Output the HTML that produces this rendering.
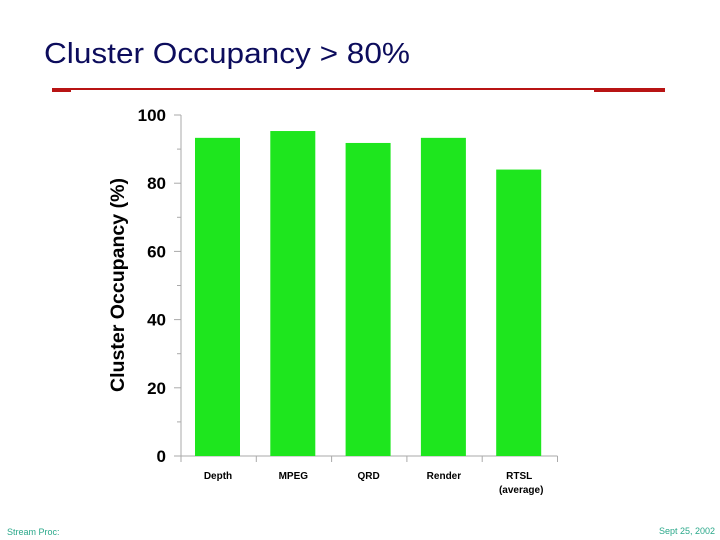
<!DOCTYPE html>
<html><head><meta charset="utf-8"><style>
html,body{margin:0;padding:0;background:#fff;}
svg{display:block;font-family:"Liberation Sans",sans-serif;}
</style></head><body>
<svg id="slide" width="720" height="540" viewBox="0 0 720 540">
<text x="44" y="63" font-size="29" fill="#0c0c5c" textLength="366" lengthAdjust="spacingAndGlyphs">Cluster Occupancy &gt; 80%</text>
<rect x="52" y="88" width="613" height="2" fill="#b81414"/>
<rect x="52" y="88" width="19" height="4" fill="#b81414"/>
<rect x="594" y="88" width="71" height="4" fill="#b81414"/>
<g id="chart"></g>
<text x="7" y="535" font-size="9" fill="#2aa88a">Stream Proc:</text>
<text x="715" y="534" font-size="9" fill="#2aa88a" text-anchor="end">Sept 25, 2002</text>
</svg>
<script>
const categories = ["Depth", "MPEG", "QRD", "Render", "RTSL"];
const subLabels = ["", "", "", "", "(average)"];
const values = [93.3, 95.3, 91.8, 93.3, 84.0];
const yTicks = [0, 20, 40, 60, 80, 100];
const yMinorTicks = [10, 30, 50, 70, 90];

const NS = "http://www.w3.org/2000/svg";
const g = document.getElementById("chart");
const x0 = 181, slot = 75.3, y0 = 456, yTop = 115;
const yScale = v => y0 - (v / 100) * (y0 - yTop);
const xSlot = i => x0 + i * slot;
function mk(tag, attrs, parent) {
  const e = document.createElementNS(NS, tag);
  for (const k in attrs) e.setAttribute(k, attrs[k]);
  (parent || g).appendChild(e);
  return e;
}
let ax = mk("line", {x1: x0, y1: yTop, x2: x0, y2: y0, stroke: "#aaa", "stroke-width": 1});


let bx = mk("line", {x1: x0 - 6, y1: y0, x2: xSlot(categories.length), y2: y0, stroke: "#aaa", "stroke-width": 1});


yTicks.forEach(t => {
  const y = yScale(t);
  const tk = mk("line", {x1: x0 - 7, y1: y, x2: x0, y2: y, stroke: "#aaa"});
  
  
  const tx = mk("text", {x: x0 - 15, y: y + 6, "font-size": 17, "font-weight": "bold", "text-anchor": "end", fill: "#000"});
  tx.textContent = t;
  
  
});
yMinorTicks.forEach(t => {
  const y = yScale(t);
  const tk = mk("line", {x1: x0 - 4, y1: y, x2: x0, y2: y, stroke: "#aaa"});
  
  
});
const yt = mk("text", {x: 0, y: 0, "font-size": 19, "font-weight": "bold", "text-anchor": "middle", fill: "#000", textLength: 214, lengthAdjust: "spacingAndGlyphs", transform: "translate(124,285) rotate(-90)"});
yt.textContent = "Cluster Occupancy (%)";


categories.forEach((c, i) => {
  const xs = xSlot(i);
  const tk = mk("line", {x1: xs, y1: y0, x2: xs, y2: y0 + 6, stroke: "#aaa"});
  
  
  const b = mk("rect", {x: xs + 14, y: yScale(values[i]), width: 45, height: y0 - yScale(values[i]), fill: "#1ee61e"});
  
  
  const lb = mk("text", {x: xs + 37, y: 479, "font-size": 10, "font-weight": "bold", "text-anchor": "middle", fill: "#000"});
  lb.textContent = c;
  
  
  if (subLabels[i]) {
    const sb = mk("text", {x: xs + 39, y: 493, "font-size": 10, "font-weight": "bold", "text-anchor": "middle", fill: "#000"});
    sb.textContent = subLabels[i];
    
    
  }
});
const endTk = mk("line", {x1: xSlot(categories.length), y1: y0, x2: xSlot(categories.length), y2: y0 + 6, stroke: "#aaa"});


</script>
</body></html>
